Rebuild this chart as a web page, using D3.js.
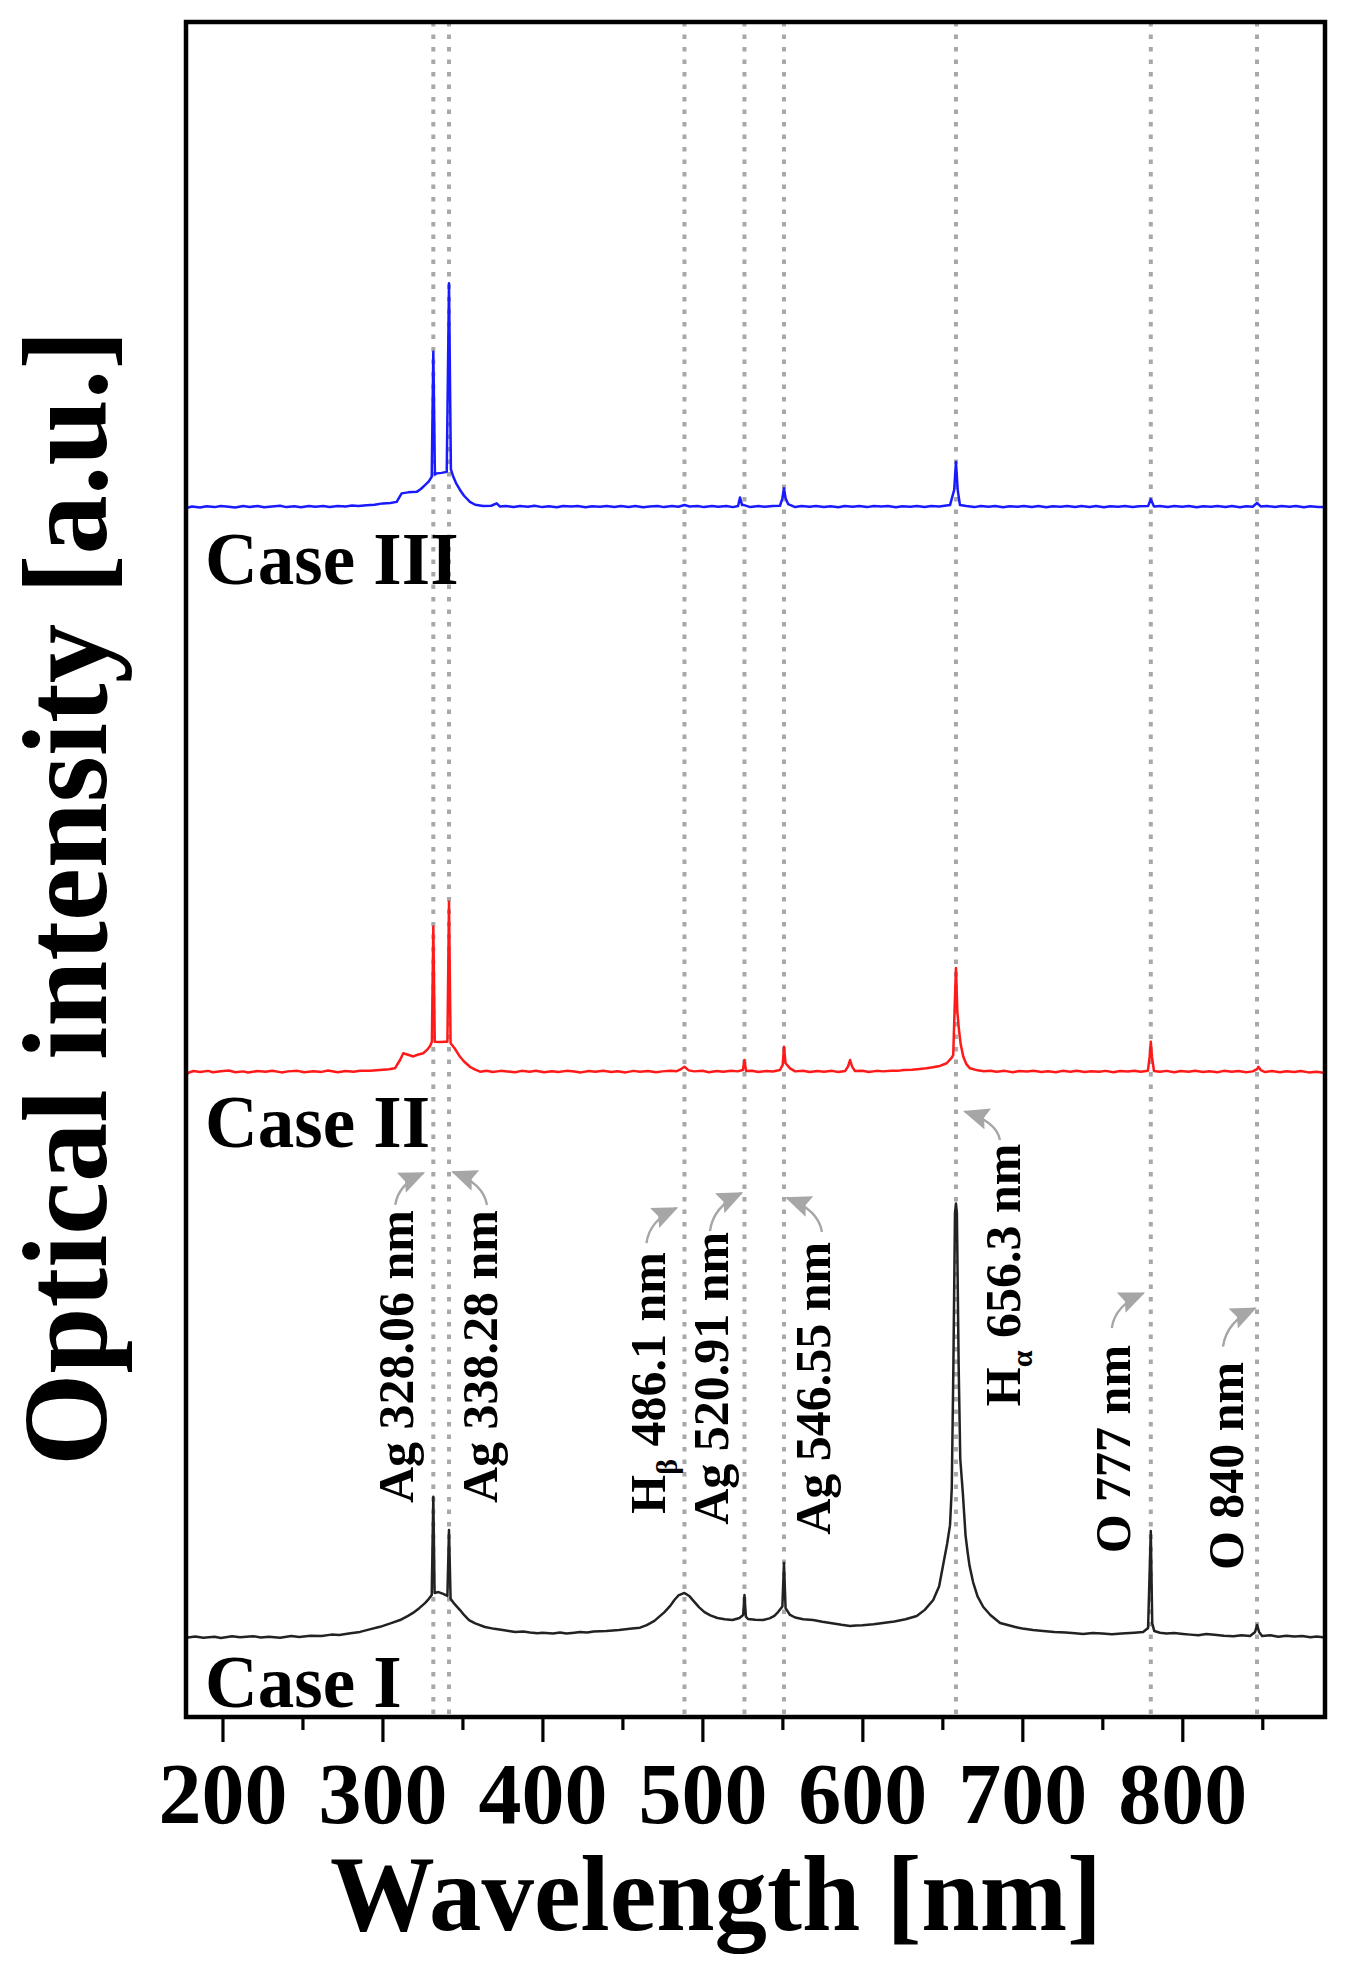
<!DOCTYPE html>
<html><head><meta charset="utf-8">
<script src="https://cdn.jsdelivr.net/npm/d3@7"></script>
<style>
body{margin:0;background:#fff}
svg{display:block}
text{font-family:"Liberation Serif","Times New Roman",serif;font-weight:bold;fill:#000}
</style>
</head><body>
<svg id="chart" width="1352" height="1970"></svg>
<script>
// ---------------- DATA ----------------
const caseNames = ["Case I", "Case II", "Case III"];
const caseOffsets = [4.72, 38.07, 71.4];           // vertical stacking offsets (a.u.)
const majorTicks = [200, 300, 400, 500, 600, 700, 800];
const minorTicks = [250, 350, 450, 550, 650, 750, 850];
const emissionLines = [331.8, 341.6, 488.8, 526.3, 551.0, 658.5, 780.3, 846.7];
const emissionNames = ["Ag 328.06 nm", "Ag 338.28 nm", "H|β| 486.1 nm", "Ag 520.91 nm",
                       "Ag 546.55 nm", "H|α| 656.3 nm", "O 777 nm", "O 840 nm"];

// [wavelength nm, intensity a.u. above own baseline]
const case1Spectrum = [[177.2,-0.05],[183,0.03],[188,-0.04],[195,0.02],[199,-0.06],[206,0.04],[211,-0.02],[219,0.05],[224,-0.03],[229,0.02],[236,-0.05],[243,0.06],[248,0.0],[255,0.08],[262,0.06],[268,0.14],[273,0.12],[280,0.22],[286,0.3],[292,0.45],[298.5,0.6],[305,0.8],[311,1.0],[316,1.25],[319.1,1.42],[323,1.7],[326.6,2.0],[329,2.25],[330.8,2.48],[331.8,8.28],[332.6,2.6],[335,2.65],[338,2.54],[340.6,2.42],[341.6,6.31],[342.6,2.25],[345,1.95],[348.5,1.59],[351,1.3],[354.1,1.0],[358,0.8],[364.1,0.59],[370,0.48],[375.2,0.41],[379,0.36],[383,0.3],[388,0.33],[392.2,0.27],[397,0.22],[400,0.25],[406.6,0.21],[411,0.26],[415,0.2],[420,0.25],[423.5,0.29],[428,0.26],[432,0.32],[440,0.35],[447.9,0.41],[456,0.5],[461,0.55],[465.2,0.7],[470,0.95],[476.3,1.47],[480,1.85],[482.5,2.18],[485,2.45],[488.8,2.6],[492,2.4],[495.1,2.06],[498,1.75],[501.3,1.47],[505,1.28],[509.4,1.12],[514,1.05],[518.8,1.0],[523.2,1.12],[525.5,1.3],[526.3,2.48],[527.2,1.2],[528.5,1.06],[533,1.02],[537.9,1.0],[542,1.1],[545,1.25],[547.3,1.47],[550,1.8],[551.0,4.37],[552,1.7],[554.8,1.3],[558,1.15],[563,1.05],[569.2,1.0],[575,0.9],[582,0.8],[587,0.72],[592.3,0.65],[596,0.68],[600,0.7],[607,0.75],[612.9,0.83],[620,0.92],[627,1.05],[634,1.24],[639,1.6],[644.3,2.18],[648,3.0],[650.6,4.31],[653,5.5],[654.8,6.6],[655.9,8.8],[656.9,16],[657.9,25.0],[658.5,25.57],[659.1,25.0],[660.2,16],[661.2,10.5],[662.8,8.5],[664.5,6.0],[665.8,5.0],[667,4.2],[669.2,3.24],[672,2.4],[675.6,1.77],[680,1.3],[686.1,0.83],[695,0.6],[700,0.5],[706.7,0.41],[713,0.36],[720,0.3],[727,0.26],[733,0.22],[738,0.18],[744,0.24],[750,0.2],[756,0.16],[762,0.2],[770,0.25],[775.5,0.29],[778.6,0.53],[780.3,6.25],[781.2,0.8],[782.5,0.35],[786,0.25],[790,0.2],[795,0.24],[800.5,0.18],[805,0.14],[810,0.1],[815,0.18],[820,0.13],[826,0.08],[832,0.05],[837,0.1],[842.4,0.06],[845.5,0.3],[846.7,0.71],[848,0.3],[849.9,0.06],[855,0.1],[860,0.02],[865,0.07],[870,0.03],[875,0.06],[880,-0.02],[884,0.03],[889.2,-0.03]];

const case2Spectrum = [[177.2,-0.19],[179,-0.05],[182,0.04],[186,-0.02],[191,0.05],[194,-0.03],[199,0.03],[204,0.07],[208,-0.03],[213,0.02],[216,-0.05],[222,0.04],[227,0.0],[231,0.06],[237,-0.04],[241,0.02],[247,0.05],[251,-0.03],[257,0.03],[262,-0.01],[266,0.07],[272,-0.03],[277,0.04],[282,0.0],[286,0.06],[292,0.05],[298.5,0.1],[304,0.15],[307.8,0.2],[311,0.69],[313,1.09],[316,1.0],[319.3,0.9],[322,1.0],[325.5,1.09],[328,1.3],[329.8,1.52],[330.9,1.77],[331.8,8.57],[332.7,1.77],[336,1.75],[339,1.77],[340.6,1.77],[341.6,10.03],[342.6,1.68],[345,1.4],[348.5,0.88],[351,0.6],[354.7,0.29],[358,0.12],[361,0.0],[365,0.06],[369,-0.02],[374,0.05],[378,0.01],[383,-0.03],[387,0.05],[392,0.0],[396,0.06],[401,-0.03],[406,0.03],[410,-0.02],[415,0.05],[420,0.01],[424,-0.04],[429,0.04],[433,0.0],[438,0.06],[443,-0.02],[447,0.03],[452,-0.04],[457,0.05],[461,0.0],[466,0.04],[471,-0.03],[475,0.02],[480,0.06],[484,0.03],[486,0.12],[488.8,0.29],[491.5,0.08],[495,0.02],[500,0.06],[504,-0.03],[509,0.04],[513,0.0],[518,0.05],[522,0.02],[525.3,0.1],[526.3,0.69],[527.3,0.04],[531,0.06],[535,-0.02],[540,0.04],[544,0.01],[548.5,0.1],[550.2,0.4],[551.0,1.47],[552,0.5],[554.8,0.2],[558,0.02],[563,0.06],[567,-0.02],[572,0.04],[576,0.0],[581,0.05],[585,-0.02],[589.2,0.04],[591,0.3],[592.3,0.69],[593.6,0.3],[595.4,0.04],[600,0.06],[604,-0.02],[609,0.05],[613,0.02],[618,0.06],[622,0.05],[626,0.1],[631,0.12],[636,0.16],[640,0.2],[644,0.26],[648.5,0.34],[652.7,0.5],[656,0.85],[656.8,0.99],[657.6,3.5],[658.5,6.12],[659.4,3.5],[660.4,2.46],[661.5,1.6],[663.1,0.88],[665,0.45],[667.3,0.2],[672,0.08],[676,0.03],[680,0.06],[684,0.0],[689,0.05],[694,-0.03],[698,0.04],[703,0.01],[707,0.06],[712,-0.02],[716,0.03],[721,-0.03],[725,0.05],[730,0.0],[734,0.06],[739,-0.02],[743,0.03],[748,0.0],[752,0.05],[757,-0.03],[761,0.04],[766,0.01],[770,0.06],[774,0.0],[778.5,0.06],[779.6,0.9],[780.3,1.77],[781,0.9],[782.3,0.04],[786,0.0],[790,0.05],[795,-0.03],[799,0.04],[804,0.0],[808,0.06],[813,-0.02],[817,0.03],[822,-0.03],[826,0.05],[831,0.0],[835,0.04],[840,-0.03],[844,0.02],[846.7,0.15],[847.6,0.29],[849,0.1],[851.8,-0.02],[856,0.04],[861,-0.03],[865,0.03],[870,-0.02],[874,0.04],[879,-0.04],[884,0.0],[889.2,-0.08]];

const case3Spectrum = [[177.2,-0.08],[181,0.02],[186,-0.04],[190,0.03],[195,-0.02],[199,0.05],[204,0.0],[208,-0.04],[213,0.04],[217,-0.01],[222,0.05],[226,-0.03],[231,0.02],[236,0.06],[240,-0.02],[245,0.03],[249,-0.03],[254,0.05],[258,0.0],[263,0.04],[267,-0.02],[272,0.05],[277,0.02],[281,0.07],[285,0.05],[290,0.09],[295,0.12],[300.3,0.2],[305,0.22],[308.9,0.29],[312,0.79],[316,0.85],[321.4,0.88],[324,1.05],[326.6,1.28],[329,1.5],[330.8,1.77],[331.8,9.14],[332.8,1.9],[333.9,1.97],[337,2.0],[340.2,2.06],[341.6,13.18],[342.8,2.2],[344.3,1.77],[346,1.4],[348.5,0.99],[351,0.65],[354.7,0.29],[358,0.12],[363,0.04],[368,0.06],[371.4,0.2],[373.5,0.01],[377,0.05],[382,-0.02],[386,0.04],[391,0.0],[395,0.06],[400,-0.02],[404,0.03],[409,-0.03],[413,0.05],[418,0.01],[422,0.04],[427,-0.03],[431,0.03],[436,0.0],[440,0.05],[445,-0.02],[449,0.04],[454,-0.01],[458,0.05],[463,-0.03],[467,0.02],[472,0.05],[476,-0.02],[481,0.04],[485,0.0],[488.8,0.1],[492,0.02],[497,0.05],[501,-0.02],[506,0.04],[510,0.0],[515,0.05],[519,-0.02],[522.3,0.04],[523.5,0.55],[524.8,0.1],[526,0.1],[530,-0.02],[535,0.04],[539,0.0],[544,0.05],[548.5,0.06],[550,0.5],[551,1.09],[552,0.5],[553.6,0.16],[558,-0.02],[562,0.04],[567,0.0],[571,0.05],[576,-0.02],[580,0.03],[585,-0.03],[589,0.05],[594,0.0],[598,0.04],[603,-0.02],[607,0.05],[612,0.01],[616,0.04],[621,-0.03],[625,0.03],[630,0.0],[634,0.05],[639,-0.02],[643,0.04],[648,0.02],[654.8,0.1],[657.4,1.0],[658.5,2.64],[659.6,1.0],[661,0.1],[665,0.04],[670,-0.02],[674,0.05],[679,0.0],[683,0.04],[688,-0.03],[692,0.03],[697,0.0],[701,0.05],[706,-0.02],[710,0.04],[715,-0.03],[719,0.03],[724,0.0],[728,0.05],[733,-0.02],[737,0.04],[742,-0.01],[746,0.05],[751,-0.03],[755,0.03],[760,0.0],[764,0.05],[769,-0.02],[773,0.03],[778.6,0.04],[780.3,0.45],[782.3,0.01],[786,0.05],[791,-0.02],[795,0.04],[800,0.0],[804,0.05],[809,-0.03],[813,0.03],[818,0.0],[822,0.05],[827,-0.02],[831,0.04],[836,-0.03],[840,0.03],[844,0.0],[846.7,0.22],[849,0.02],[853,0.05],[858,-0.02],[862,0.04],[867,0.0],[871,0.05],[876,-0.03],[880,0.03],[885,-0.02],[889.2,-0.02]];

// ---------------- LAYOUT ----------------
const plot = {left: 186, right: 1325, top: 22, bottom: 1717};
const lineColors = ["#222222", "#ff1a1a", "#1a1aff"];
const caseLabelY = [0.59, 33.63, 66.84];   // a.u. baselines of case labels
// label layout: dx from line (px), top end (a.u.), arrow start/tip (dx px, a.u.)
const labelLayout = [
  {dx:-20,  top:29.91, sdx:-38, sy:30.21, tdx:-10, ty:32.09},
  {dx:48,   top:29.91, sdx:38,  sy:30.21, tdx:4,   ty:32.15},
  {dx:-19.5,top:27.43, sdx:-38, sy:27.96, tdx:-8,  ty:30.03},
  {dx:-16.5,top:28.63, sdx:-34.5,sy:28.67,tdx:-3,  ty:30.91},
  {dx:46,   top:28.04, sdx:38,  sy:28.61, tdx:3,   ty:30.62},
  {dx:64,   top:33.83, sdx:44,  sy:34.04, tdx:9,   ty:35.71},
  {dx:-21,  top:21.95, sdx:-39, sy:22.95, tdx:-7.5,ty:25.0},
  {dx:-14,  top:20.96, sdx:-34, sy:21.85, tdx:-2,  ty:24.11}
];

const svg = d3.select("#chart");
const x = d3.scaleLinear().domain([177.2, 889.2]).range([plot.left, plot.right]);
const y = d3.scaleLinear().domain([0, 100]).range([plot.bottom, plot.top]);

const defs = svg.append("defs");
defs.append("clipPath").attr("id", "clip").append("rect")
  .attr("x", plot.left).attr("y", plot.top)
  .attr("width", plot.right - plot.left).attr("height", plot.bottom - plot.top);
defs.append("marker").attr("id", "ah")
  .attr("viewBox", "0 0 26 22").attr("refX", 24).attr("refY", 11)
  .attr("markerWidth", 26).attr("markerHeight", 22)
  .attr("markerUnits", "userSpaceOnUse").attr("orient", "auto")
  .append("path").attr("d", "M0,0 L26,11 L0,22 L4,11 Z").attr("fill", "#a6a6a6");

// dotted reference lines
svg.append("g").selectAll("line").data(emissionLines).join("line")
  .attr("x1", d => x(d)).attr("x2", d => x(d))
  .attr("y1", plot.top).attr("y2", plot.bottom)
  .attr("stroke", "#a8a8a8").attr("stroke-width", 4)
  .attr("stroke-dasharray", "4.5 8");

// spectra
const spectra = [case1Spectrum, case2Spectrum, case3Spectrum];
const gSpec = svg.append("g").attr("clip-path", "url(#clip)");
spectra.forEach((s, i) => {
  const line = d3.line().x(d => x(d[0])).y(d => y(d[1] + caseOffsets[i]));
  gSpec.append("path").datum(s).attr("d", line)
    .attr("fill", "none").attr("stroke", lineColors[i])
    .attr("stroke-width", 2.5).attr("stroke-linejoin", "round");
});

// case labels
svg.append("g").selectAll("text").data(caseNames).join("text")
  .attr("x", x(189.1)).attr("y", (d, i) => y(caseLabelY[i]))
  .attr("font-size", 73).text(d => d);

// peak annotation labels
const gLab = svg.append("g");
emissionNames.forEach((name, i) => {
  const L = labelLayout[i];
  const bx = x(emissionLines[i]) + L.dx, ty = y(L.top);
  const t = gLab.append("text")
    .attr("transform", `translate(${bx},${ty}) rotate(-90)`)
    .attr("text-anchor", "end").attr("font-size", 50);
  const parts = name.split("|");
  if (parts.length === 1) t.text(name);
  else {
    t.append("tspan").text(parts[0]);
    t.append("tspan").attr("font-size", 30).attr("dy", 12).text(parts[1]);
    t.append("tspan").attr("dy", -12).text(parts[2]);
  }
  const sx = x(emissionLines[i]) + L.sdx, sy = y(L.sy);
  const tx = x(emissionLines[i]) + L.tdx, tyy = y(L.ty);
  const cx = sx + (tx - sx) * 0.1, cy = tyy + (sy - tyy) * 0.35;
  gLab.append("path").attr("d", `M${sx},${sy} Q${cx},${cy} ${tx},${tyy}`)
    .attr("fill", "none").attr("stroke", "#a6a6a6").attr("stroke-width", 2.4)
    .attr("marker-end", "url(#ah)");
});

// frame
svg.append("rect").attr("x", plot.left).attr("y", plot.top)
  .attr("width", plot.right - plot.left).attr("height", plot.bottom - plot.top)
  .attr("fill", "none").attr("stroke", "#000").attr("stroke-width", 4.5);

// x axis
const gx = svg.append("g").attr("transform", `translate(0,${plot.bottom})`);
gx.call(d3.axisBottom(x).tickValues(majorTicks).tickSize(25).tickSizeOuter(0).tickFormat(d3.format("d")));
gx.select(".domain").remove();
gx.selectAll(".tick line").attr("stroke", "#000").attr("stroke-width", 3.2);
gx.selectAll(".tick text").attr("y", 106).attr("dy", 0)
  .attr("font-size", 86).attr("fill", "#000")
  .style("font-family", '"Liberation Serif","Times New Roman",serif').style("font-weight", "bold");
const gxm = svg.append("g").attr("transform", `translate(0,${plot.bottom})`);
gxm.call(d3.axisBottom(x).tickValues(minorTicks).tickSize(13).tickSizeOuter(0).tickFormat(""));
gxm.select(".domain").remove();
gxm.selectAll(".tick line").attr("stroke", "#000").attr("stroke-width", 3.2);

// axis titles
svg.append("text").attr("x", 716).attr("y", 1930).attr("text-anchor", "middle")
  .attr("font-size", 108).attr("textLength", 772).attr("lengthAdjust", "spacingAndGlyphs")
  .text("Wavelength [nm]");
svg.append("text").attr("transform", "translate(106,898) rotate(-90)")
  .attr("text-anchor", "middle").attr("font-size", 120)
  .attr("textLength", 1136).attr("lengthAdjust", "spacingAndGlyphs")
  .text("Optical intensity [a.u.]");
</script>
</body></html>
